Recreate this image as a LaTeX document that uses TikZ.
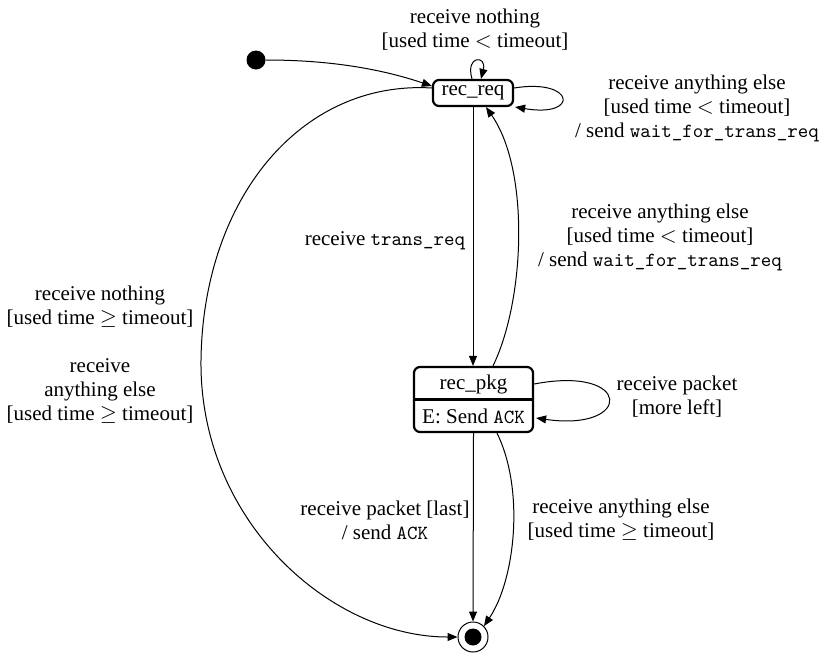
\documentclass[tikz,border=0pt]{standalone}
\usepackage{fontspec}
\setmainfont{Liberation Serif}
\usetikzlibrary{arrows.meta,calc}
% monospaced identifiers, set slightly smaller than the text
\newcommand{\ident}[1]{{\fontsize{10}{12}\ttfamily #1}}
\begin{document}
\begin{tikzpicture}[x=0.5pt,y=-0.5pt,
  lbl/.style={align=center,inner sep=0pt,font=\fontsize{10.5}{12}\selectfont},
  statebox/.style={draw,line width=1.1pt,rounded corners=3pt,inner sep=0pt,
    font=\fontsize{10.5}{12}\selectfont},
  tr/.style={line width=0.5pt,-{Triangle[length=5pt,width=4pt]}},
  txt/.style={inner sep=0pt,font=\fontsize{10.5}{12}\selectfont}]
\useasboundingbox (0,0) rectangle (823,654);

% states
\node[circle,fill,inner sep=0pt,minimum size=9.5pt] (init) at (256,60) {};
\node[statebox,minimum width=40pt,minimum height=13pt] (rr) at (473,93) {rec\_req};
\node[statebox,minimum width=59.5pt,minimum height=32.5pt] (rp) at (473.5,399.5) {};
\draw[line width=1.1pt] (rp.west) -- (rp.east);
\node[txt] (rptop) at (473.5,384) {rec\_pkg};
\node[txt] (rpbot) at (473.5,416) {E: Send \ident{ACK}};
\node[circle,draw,line width=0.5pt,inner sep=0pt,minimum size=15pt] (fin) at (473,637) {};
\node[circle,fill,inner sep=0pt,minimum size=8.5pt] (findot) at (fin) {};

% transitions
\draw[tr] (init.east) .. controls (340,60) and (390,72) .. ($(rr.west)+(0,-7)$);
\draw[tr] ($(rr.west)+(0,-5)$) .. controls (300,80) and (203,200) .. (201,360)
  .. controls (199,520) and (330,637) .. (fin.west);
\draw[tr] ($(rr.north)+(-1,0)$) .. controls (465,55) and (487,55) .. ($(rr.north)+(8,0)$);
\draw[tr] ($(rr.east)+(0,-5)$) .. controls (575,78) and (580,118) .. ($(rr.east)+(1,14)$);
\draw[tr] (rr.south) -- (rr.south |- rp.north);
\draw[tr] ($(rp.north)+(19.5,0)$) .. controls (525,300) and (530,170) .. ($(rr.south)+(13,0)$);
\draw[tr] ($(rp.east)+(0,-15.5)$) .. controls (633,365) and (633,432) .. ($(rp.east)+(2,18.5)$);
\draw[tr] (rp.south) -- (fin.north);
\draw[tr] ($(rp.south)+(23.5,0)$) .. controls (525,490) and (515,580) .. (fin.45);

% labels
\node[lbl] (l1) at (475,30) {receive nothing\\\relax [used time $<$ timeout]};
\node[lbl] (l2) at (697,108) {receive anything else\\\relax [used time $<$ timeout]\\/ send \ident{wait\_for\_trans\_req}};
\node[lbl] (l3) at (385,241) {receive \ident{trans\_req}};
\node[lbl] (l4) at (660,237) {receive anything else\\\relax [used time $<$ timeout]\\/ send \ident{wait\_for\_trans\_req}};
\node[lbl] (l5) at (100,355) {receive nothing\\\relax [used time $\geq$ timeout]\\[12pt]receive\\anything else\\\relax [used time $\geq$ timeout]};
\node[lbl] (l6) at (677,397) {receive packet\\\relax [more left]};
\node[lbl] (l7) at (385,520) {receive packet [last]\\/ send \ident{ACK}};
\node[lbl] (l8) at (621,520) {receive anything else\\\relax [used time $\geq$ timeout]};
\end{tikzpicture}
\end{document}
